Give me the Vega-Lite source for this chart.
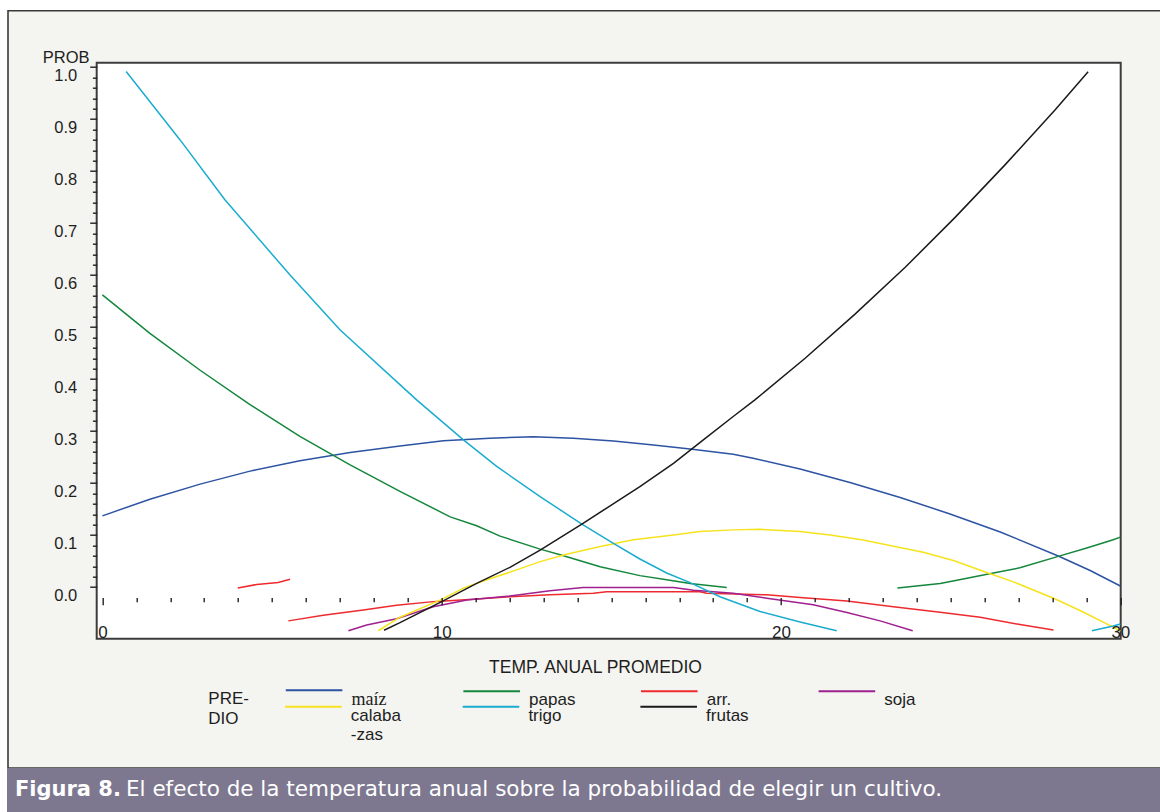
{
  "$schema": "https://vega.github.io/schema/vega-lite/v6.json",
  "width": 1024,
  "height": 576,
  "autosize": {"type": "none"},
  "padding": {"left": 96.7, "top": 62.7, "right": 39.3, "bottom": 173.3},
  "background": "#ffffff",
  "config": {
    "view": {"stroke": null}, "font": "Liberation Sans",
    "axis": {"grid": false, "labelOverlap": false},
    "legend": {
      "orient": "none", "padding": 0, "direction": "horizontal",
      "symbolType": "M0,0H40", "symbolSize": 8, "symbolStrokeWidth": 2,
      "labelFont": "Liberation Sans", "labelFontSize": 17, "labelColor": "#1e1e1e",
      "labelBaseline": "top", "labelOffset": 57.2
    }
  },
  "resolve": {"scale": {"color": "independent"}},
  "layer": [
    {
      "data": {"values": [{}]},
      "mark": {"type": "rect", "fill": "#f4f4f0", "stroke": "#3a3a3a", "strokeWidth": 1.6},
      "encoding": {
        "x": {"datum": -2.782, "type": "quantitative"},
        "x2": {"datum": 31.32},
        "y": {"datum": 1.1083, "type": "quantitative"},
        "y2": {"datum": -0.348}
      }
    },
    {
      "data": {"values": [{}]},
      "mark": {"type": "rect", "fill": "#ffffff", "stroke": "#3c3c3c", "strokeWidth": 2},
      "encoding": {
        "x": {"datum": -0.168, "type": "quantitative"},
        "x2": {"datum": 30.01},
        "y": {"datum": 1.0085, "type": "quantitative"},
        "y2": {"datum": -0.0993}
      }
    },
    {
      "data": {"values": [
        {"c":"maíz","g":"m1","x":0.0,"p":0.137},
        {"c":"maíz","g":"m1","x":1.40,"p":0.169},
        {"c":"maíz","g":"m1","x":2.88,"p":0.198},
        {"c":"maíz","g":"m1","x":4.35,"p":0.223},
        {"c":"maíz","g":"m1","x":5.82,"p":0.243},
        {"c":"maíz","g":"m1","x":7.30,"p":0.259},
        {"c":"maíz","g":"m1","x":8.77,"p":0.2715},
        {"c":"maíz","g":"m1","x":10.05,"p":0.2816},
        {"c":"maíz","g":"m1","x":11.42,"p":0.2863},
        {"c":"maíz","g":"m1","x":12.70,"p":0.2893},
        {"c":"maíz","g":"m1","x":13.88,"p":0.2863},
        {"c":"maíz","g":"m1","x":15.06,"p":0.2811},
        {"c":"maíz","g":"m1","x":16.24,"p":0.2734},
        {"c":"maíz","g":"m1","x":17.32,"p":0.2657},
        {"c":"maíz","g":"m1","x":18.59,"p":0.2555},
        {"c":"maíz","g":"m1","x":19.18,"p":0.2478},
        {"c":"maíz","g":"m1","x":20.56,"p":0.2272},
        {"c":"maíz","g":"m1","x":22.03,"p":0.2012},
        {"c":"maíz","g":"m1","x":23.51,"p":0.1724},
        {"c":"maíz","g":"m1","x":24.98,"p":0.1406},
        {"c":"maíz","g":"m1","x":26.46,"p":0.106},
        {"c":"maíz","g":"m1","x":28.17,"p":0.0598},
        {"c":"maíz","g":"m1","x":29.11,"p":0.0319},
        {"c":"maíz","g":"m1","x":30.0,"p":0.002},

        {"c":"papas","g":"p1","x":0.0,"p":0.562},
        {"c":"papas","g":"p1","x":1.40,"p":0.488},
        {"c":"papas","g":"p1","x":2.88,"p":0.417},
        {"c":"papas","g":"p1","x":4.35,"p":0.351},
        {"c":"papas","g":"p1","x":5.82,"p":0.290},
        {"c":"papas","g":"p1","x":7.30,"p":0.235},
        {"c":"papas","g":"p1","x":8.77,"p":0.184},
        {"c":"papas","g":"p1","x":10.25,"p":0.135},
        {"c":"papas","g":"p1","x":11.03,"p":0.118},
        {"c":"papas","g":"p1","x":11.72,"p":0.098},
        {"c":"papas","g":"p1","x":12.90,"p":0.073},
        {"c":"papas","g":"p1","x":13.49,"p":0.062},
        {"c":"papas","g":"p1","x":14.67,"p":0.039},
        {"c":"papas","g":"p1","x":15.84,"p":0.022},
        {"c":"papas","g":"p1","x":16.63,"p":0.014},
        {"c":"papas","g":"p1","x":17.32,"p":0.007},
        {"c":"papas","g":"p1","x":18.40,"p":-0.001},
        {"c":"papas","g":"p2","x":23.43,"p":-0.002},
        {"c":"papas","g":"p2","x":24.69,"p":0.007},
        {"c":"papas","g":"p2","x":25.33,"p":0.015},
        {"c":"papas","g":"p2","x":26.26,"p":0.027},
        {"c":"papas","g":"p2","x":27.04,"p":0.037},
        {"c":"papas","g":"p2","x":28.17,"p":0.059},
        {"c":"papas","g":"p2","x":29.01,"p":0.075},
        {"c":"papas","g":"p2","x":29.79,"p":0.091},
        {"c":"papas","g":"p2","x":30.0,"p":0.096},

        {"c":"arr.","g":"r1","x":3.99,"p":-0.002},
        {"c":"arr.","g":"r1","x":4.55,"p":0.005},
        {"c":"arr.","g":"r1","x":5.18,"p":0.009},
        {"c":"arr.","g":"r1","x":5.53,"p":0.015},
        {"c":"arr.","g":"r2","x":5.48,"p":-0.065},
        {"c":"arr.","g":"r2","x":6.51,"p":-0.054},
        {"c":"arr.","g":"r2","x":7.69,"p":-0.044},
        {"c":"arr.","g":"r2","x":8.67,"p":-0.035},
        {"c":"arr.","g":"r2","x":9.75,"p":-0.028},
        {"c":"arr.","g":"r2","x":11.03,"p":-0.023},
        {"c":"arr.","g":"r2","x":12.01,"p":-0.0185},
        {"c":"arr.","g":"r2","x":13.19,"p":-0.015},
        {"c":"arr.","g":"r2","x":14.47,"p":-0.012},
        {"c":"arr.","g":"r2","x":14.86,"p":-0.009},
        {"c":"arr.","g":"r2","x":16.20,"p":-0.009},
        {"c":"arr.","g":"r2","x":17.61,"p":-0.009},
        {"c":"arr.","g":"r2","x":17.81,"p":-0.012},
        {"c":"arr.","g":"r2","x":19.58,"p":-0.015},
        {"c":"arr.","g":"r2","x":20.56,"p":-0.020},
        {"c":"arr.","g":"r2","x":21.94,"p":-0.027},
        {"c":"arr.","g":"r2","x":23.31,"p":-0.038},
        {"c":"arr.","g":"r2","x":24.69,"p":-0.0485},
        {"c":"arr.","g":"r2","x":25.87,"p":-0.058},
        {"c":"arr.","g":"r2","x":27.04,"p":-0.072},
        {"c":"arr.","g":"r2","x":28.03,"p":-0.0825},

        {"c":"soja","g":"s1","x":7.25,"p":-0.084},
        {"c":"soja","g":"s1","x":7.79,"p":-0.073},
        {"c":"soja","g":"s1","x":8.67,"p":-0.061},
        {"c":"soja","g":"s1","x":9.75,"p":-0.038},
        {"c":"soja","g":"s1","x":10.74,"p":-0.025},
        {"c":"soja","g":"s1","x":12.01,"p":-0.017},
        {"c":"soja","g":"s1","x":13.19,"p":-0.007},
        {"c":"soja","g":"s1","x":14.17,"p":-0.001},
        {"c":"soja","g":"s1","x":16.83,"p":-0.001},
        {"c":"soja","g":"s1","x":17.42,"p":-0.006},
        {"c":"soja","g":"s1","x":18.59,"p":-0.012},
        {"c":"soja","g":"s1","x":19.58,"p":-0.0215},
        {"c":"soja","g":"s1","x":20.95,"p":-0.034},
        {"c":"soja","g":"s1","x":21.94,"p":-0.049},
        {"c":"soja","g":"s1","x":22.92,"p":-0.065},
        {"c":"soja","g":"s1","x":23.88,"p":-0.084}
      ]},
      "mark": {"type": "line", "strokeWidth": 1.5, "clip": false},
      "encoding": {
        "x": {
          "field": "x", "type": "quantitative", "title": "TEMP. ANUAL PROMEDIO",
          "scale": {"domain": [-0.168, 30.01], "nice": false, "zero": false},
          "axis": {
            "values": [0,1,2,3,4,5,6,7,8,9,10,11,12,13,14,15,16,17,18,19,20,21,22,23,24,25,26,27,28,29,30],
            "tickCount": 100,
            "labelExpr": "datum.value % 10 == 0 ? format(datum.value, 'd') : ''",
            "offset": -41.2, "domain": false, "grid": false, "zindex": 1,
            "tickSize": 7.3,
            "tickDash": {"condition": {"test": "datum.value % 10 == 0", "value": [10, 0]}, "value": [4.3, 20]},
            "tickColor": "#222222", "tickWidth": 1.4,
            "labelFont": "Liberation Sans", "labelFontSize": 17, "labelColor": "#1e1e1e",
            "labelBaseline": "alphabetic", "labelPadding": 32.5, "labelFlush": false, "labelOverlap": false,
            "titleFont": "Liberation Sans", "titleFontSize": 17.5,
            "titleFontWeight": "normal", "titleColor": "#1e1e1e",
            "titleX": 498.3, "titleY": 74.5, "titleAlign": "center", "titleBaseline": "alphabetic"
          }
        },
        "y": {
          "field": "p", "type": "quantitative", "title": "PROB",
          "scale": {"domain": [-0.0993, 1.0085], "nice": false, "zero": false},
          "axis": {
            "values": [0,0.02,0.04,0.06,0.08,0.1,0.12,0.14,0.16,0.18,0.2,0.22,0.24,0.26,0.28,0.3,0.32,0.34,0.36,0.38,0.4,0.42,0.44,0.46,0.48,0.5,0.52,0.54,0.56,0.58,0.6,0.62,0.64,0.66,0.68,0.7,0.72,0.74,0.76,0.78,0.8,0.82,0.84,0.86,0.88,0.9,0.92,0.94,0.96,0.98,1.0],
            "tickCount": 100,
            "labelExpr": "abs(datum.value*10 - round(datum.value*10)) < 0.001 ? format(datum.value, '.1f') : ''",
            "tickSize": 7,
            "tickDash": {"condition": {"test": "abs(datum.value*10 - round(datum.value*10)) < 0.001", "value": [10, 0]}, "value": [4.3, 20]},
            "domain": false, "grid": false, "zindex": 1,
            "tickColor": "#222222", "tickWidth": 1.4,
            "labelFont": "Liberation Sans", "labelFontSize": 16.5, "labelColor": "#1e1e1e",
            "labelBaseline": "top", "labelPadding": 13, "labelFlush": false, "labelOverlap": false,
            "titleFont": "Liberation Sans", "titleFontSize": 16.5, "titleFontWeight": "normal",
            "titleColor": "#1e1e1e", "titleAngle": 0, "titleAlign": "left", "titleBaseline": "alphabetic",
            "titleX": -54.4, "titleY": 0
          }
        },
        "color": {
          "field": "c", "type": "nominal",
          "scale": {
            "domain": ["maíz", "papas", "arr.", "soja"],
            "range": ["#2d53a3", "#14873c", "#ee2a2e", "#a0208f"]
          },
          "legend": {
            "legendX": 111.6, "legendY": 618.8,
            "columns": 4, "gridAlign": "all", "columnPadding": 56.6,
            "title": ["PRE-", "DIO"], "titleOrient": "left", "titleAnchor": "start", "titleAlign": "left",
            "titleBaseline": "top", "titleFont": "Liberation Sans", "titleFontSize": 17, "titleFontWeight": "normal",
            "titleColor": "#1e1e1e", "titlePadding": 28, "titleLineHeight": 19.7,
            "encode": {
              "labels": {
                "update": {
                  "font": {"signal": "datum.value == 'maíz' ? 'Liberation Serif' : 'Liberation Sans'"},
                  "fontSize": {"signal": "datum.value == 'maíz' ? 18 : 17"},
                  "dy": {"value": 1}
                }
              },
              "title": {"update": {"dy": {"value": 9.4}}}
            }
          }
        },
        "detail": {"field": "g"}
      }
    },
    {
      "data": {"values": [
        {"c":"calabazas","g":"c1","x":8.13,"p":-0.084},
        {"c":"calabazas","g":"c1","x":8.77,"p":-0.058},
        {"c":"calabazas","g":"c1","x":9.95,"p":-0.025},
        {"c":"calabazas","g":"c1","x":10.64,"p":-0.002},
        {"c":"calabazas","g":"c1","x":11.33,"p":0.014},
        {"c":"calabazas","g":"c1","x":12.21,"p":0.033},
        {"c":"calabazas","g":"c1","x":12.90,"p":0.049},
        {"c":"calabazas","g":"c1","x":13.68,"p":0.063},
        {"c":"calabazas","g":"c1","x":14.67,"p":0.078},
        {"c":"calabazas","g":"c1","x":15.65,"p":0.091},
        {"c":"calabazas","g":"c1","x":16.83,"p":0.100},
        {"c":"calabazas","g":"c1","x":17.61,"p":0.107},
        {"c":"calabazas","g":"c1","x":18.59,"p":0.110},
        {"c":"calabazas","g":"c1","x":19.38,"p":0.111},
        {"c":"calabazas","g":"c1","x":20.56,"p":0.107},
        {"c":"calabazas","g":"c1","x":21.44,"p":0.100},
        {"c":"calabazas","g":"c1","x":22.38,"p":0.091},
        {"c":"calabazas","g":"c1","x":23.21,"p":0.080},
        {"c":"calabazas","g":"c1","x":24.19,"p":0.067},
        {"c":"calabazas","g":"c1","x":25.08,"p":0.051},
        {"c":"calabazas","g":"c1","x":26.06,"p":0.028},
        {"c":"calabazas","g":"c1","x":26.85,"p":0.010},
        {"c":"calabazas","g":"c1","x":28.03,"p":-0.0215},
        {"c":"calabazas","g":"c1","x":28.81,"p":-0.045},
        {"c":"calabazas","g":"c1","x":29.79,"p":-0.077},
        {"c":"calabazas","g":"c1","x":30.0,"p":-0.0845}
      ]},
      "mark": {"type": "line", "strokeWidth": 1.5, "clip": false},
      "encoding": {
        "x": {"field": "x", "type": "quantitative", "title": "TEMP. ANUAL PROMEDIO"},
        "y": {"field": "p", "type": "quantitative", "title": "PROB"},
        "color": {
          "field": "c", "type": "nominal",
          "scale": {"domain": ["calabazas"], "range": ["#f6e31c"]},
          "legend": {
            "legendX": 179.9, "legendY": 635.5, "title": null,
            "labelExpr": "['calaba', '-zas']",
            "encode": {"labels": {"update": {"dy": {"value": 1}}}}
          }
        },
        "detail": {"field": "g"}
      }
    },
    {
      "data": {"values": [
        {"c":"trigo","g":"t1","x":0.70,"p":0.9915},
        {"c":"trigo","g":"t1","x":2.29,"p":0.860},
        {"c":"trigo","g":"t1","x":3.61,"p":0.745},
        {"c":"trigo","g":"t1","x":5.53,"p":0.600},
        {"c":"trigo","g":"t1","x":7.00,"p":0.495},
        {"c":"trigo","g":"t1","x":9.26,"p":0.360},
        {"c":"trigo","g":"t1","x":10.64,"p":0.283},
        {"c":"trigo","g":"t1","x":11.62,"p":0.232},
        {"c":"trigo","g":"t1","x":12.90,"p":0.174},
        {"c":"trigo","g":"t1","x":14.13,"p":0.121},
        {"c":"trigo","g":"t1","x":15.06,"p":0.084},
        {"c":"trigo","g":"t1","x":15.84,"p":0.054},
        {"c":"trigo","g":"t1","x":16.63,"p":0.027},
        {"c":"trigo","g":"t1","x":17.32,"p":0.0085},
        {"c":"trigo","g":"t1","x":18.20,"p":-0.0185},
        {"c":"trigo","g":"t1","x":19.38,"p":-0.047},
        {"c":"trigo","g":"t1","x":20.56,"p":-0.067},
        {"c":"trigo","g":"t1","x":21.64,"p":-0.084},
        {"c":"trigo","g":"t2","x":29.16,"p":-0.084},
        {"c":"trigo","g":"t2","x":29.79,"p":-0.075},
        {"c":"trigo","g":"t2","x":30.0,"p":-0.071}
      ]},
      "mark": {"type": "line", "strokeWidth": 1.5, "clip": false},
      "encoding": {
        "x": {"field": "x", "type": "quantitative", "title": "TEMP. ANUAL PROMEDIO"},
        "y": {"field": "p", "type": "quantitative", "title": "PROB"},
        "color": {
          "field": "c", "type": "nominal",
          "scale": {"domain": ["trigo"], "range": ["#1aaccf"]},
          "legend": {
            "legendX": 357.5, "legendY": 635.5, "title": null,
            "encode": {"labels": {"update": {"dy": {"value": 1}}}}
          }
        },
        "detail": {"field": "g"}
      }
    },
    {
      "data": {"values": [
        {"c":"frutas","g":"f1","x":8.30,"p":-0.083},
        {"c":"frutas","g":"f1","x":8.77,"p":-0.0685},
        {"c":"frutas","g":"f1","x":10.00,"p":-0.028},
        {"c":"frutas","g":"f1","x":11.03,"p":0.007},
        {"c":"frutas","g":"f1","x":12.01,"p":0.038},
        {"c":"frutas","g":"f1","x":12.90,"p":0.071},
        {"c":"frutas","g":"f1","x":14.13,"p":0.121},
        {"c":"frutas","g":"f1","x":14.86,"p":0.152},
        {"c":"frutas","g":"f1","x":15.84,"p":0.193},
        {"c":"frutas","g":"f1","x":16.83,"p":0.238},
        {"c":"frutas","g":"f1","x":17.71,"p":0.283},
        {"c":"frutas","g":"f1","x":18.59,"p":0.328},
        {"c":"frutas","g":"f1","x":19.23,"p":0.360},
        {"c":"frutas","g":"f1","x":20.71,"p":0.440},
        {"c":"frutas","g":"f1","x":22.18,"p":0.525},
        {"c":"frutas","g":"f1","x":23.66,"p":0.615},
        {"c":"frutas","g":"f1","x":25.13,"p":0.711},
        {"c":"frutas","g":"f1","x":26.60,"p":0.812},
        {"c":"frutas","g":"f1","x":28.08,"p":0.918},
        {"c":"frutas","g":"f1","x":29.05,"p":0.991}
      ]},
      "mark": {"type": "line", "strokeWidth": 1.5, "clip": false},
      "encoding": {
        "x": {"field": "x", "type": "quantitative", "title": "TEMP. ANUAL PROMEDIO"},
        "y": {"field": "p", "type": "quantitative", "title": "PROB"},
        "color": {
          "field": "c", "type": "nominal",
          "scale": {"domain": ["frutas"], "range": ["#1a1a1a"]},
          "legend": {
            "legendX": 535.2, "legendY": 635.5, "title": null,
            "encode": {"labels": {"update": {"dy": {"value": 1}}}}
          }
        },
        "detail": {"field": "g"}
      }
    },
    {
      "data": {"values": [{}]},
      "mark": {"type": "rect", "fill": "#7d7890"},
      "encoding": {
        "x": {"datum": -2.812, "type": "quantitative"},
        "x2": {"datum": 31.32},
        "y": {"datum": -0.348, "type": "quantitative"},
        "y2": {"datum": -0.4384}
      }
    },
    {
      "data": {"values": [{}]},
      "mark": {"type": "text", "text": "Figura 8.", "font": "DejaVu Sans", "fontWeight": "bold", "fontSize": 21, "fill": "#ffffff", "align": "left", "baseline": "alphabetic"},
      "encoding": {
        "x": {"datum": -2.576, "type": "quantitative"},
        "y": {"datum": -0.4009, "type": "quantitative"}
      }
    },
    {
      "data": {"values": [{}]},
      "mark": {"type": "text", "text": "El efecto de la temperatura anual sobre la probabilidad de elegir un cultivo.", "font": "DejaVu Sans", "fontSize": 21.5, "fill": "#ffffff", "align": "left", "baseline": "alphabetic"},
      "encoding": {
        "x": {"datum": 0.6955, "type": "quantitative"},
        "y": {"datum": -0.4009, "type": "quantitative"}
      }
    }
  ]
}
